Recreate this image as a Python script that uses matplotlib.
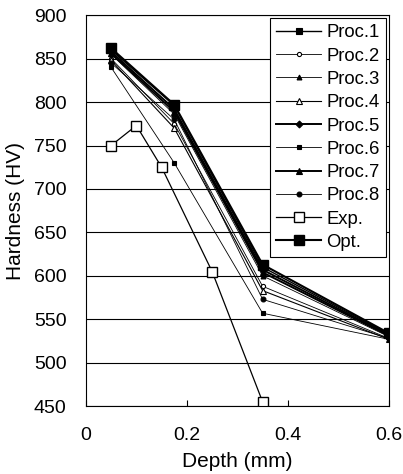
import numpy as np
import matplotlib.pyplot as plt

plt.rcParams['font.family'] = ['Liberation Sans', 'DejaVu Sans']

depth = [0.05, 0.175, 0.35, 0.6]
proc1 = [860, 796, 610, 533]
proc2 = [850, 775, 588, 528]
proc3 = [855, 786, 600, 530]
proc4 = [848, 770, 583, 527]
proc5 = [858, 792, 607, 532]
proc6 = [840, 730, 557, 527]
proc7 = [856, 789, 604, 531]
proc8 = [845, 780, 573, 528]
exp_depth = [0.05, 0.1, 0.15, 0.25, 0.35]
exp_hv = [750, 773, 725, 605, 455]
opt = [862, 797, 613, 534]

fig = plt.figure(figsize=(4.03, 4.74), dpi=100)
ax = fig.add_axes([0.213, 0.143, 0.752, 0.825])

styles = [
    ("Proc.1", proc1, "s", 4, 1.0, "black"),
    ("Proc.2", proc2, "o", 3, 0.6, "white"),
    ("Proc.3", proc3, "^", 3.5, 0.6, "black"),
    ("Proc.4", proc4, "^", 4, 0.8, "white"),
    ("Proc.5", proc5, "D", 3.5, 1.4, "black"),
    ("Proc.6", proc6, "s", 3.5, 0.6, "black"),
    ("Proc.7", proc7, "^", 4, 1.4, "black"),
    ("Proc.8", proc8, "o", 3.5, 0.6, "black"),
]
for name, vals, mk, ms, lw, fc in styles:
    ax.plot(depth, vals, color="black", lw=lw, marker=mk, ms=ms,
            mfc=fc, mec="black", mew=0.8, label=name)

ax.plot(exp_depth, exp_hv, color="black", lw=0.9, marker="s", ms=7.5,
        mfc="white", mec="black", mew=1.0, label="Exp.")
ax.plot(depth, opt, color="black", lw=1.5, marker="s", ms=7,
        mfc="black", mec="black", label="Opt.")

ax.set_xlim(0, 0.6)
ax.set_ylim(450, 900)
ax.set_xticks([0, 0.2, 0.4, 0.6])
ax.set_xticklabels(["0", "0.2", "0.4", "0.6"])
ax.set_yticks(np.arange(450, 901, 50))
ax.yaxis.grid(True, color="black", lw=0.8)
ax.set_axisbelow(True)
ax.tick_params(axis="x", direction="in", length=4, labelsize=14, pad=15)
ax.tick_params(axis="y", length=0, labelsize=14, pad=14)
for s in ax.spines.values():
    s.set_linewidth(0.8)

ax.set_xlabel("Depth (mm)", fontsize=15, labelpad=6)
ax.set_ylabel("Hardness (HV)", fontsize=15, labelpad=6)

leg = ax.legend(loc="upper right", fontsize=13.3, frameon=True, fancybox=False,
                edgecolor="black", framealpha=1, handlelength=2.4,
                handletextpad=0.3, labelspacing=0.34, borderpad=0.35,
                borderaxespad=0.15)
leg.get_frame().set_linewidth(0.8)

fig.savefig("out.png", dpi=100)
